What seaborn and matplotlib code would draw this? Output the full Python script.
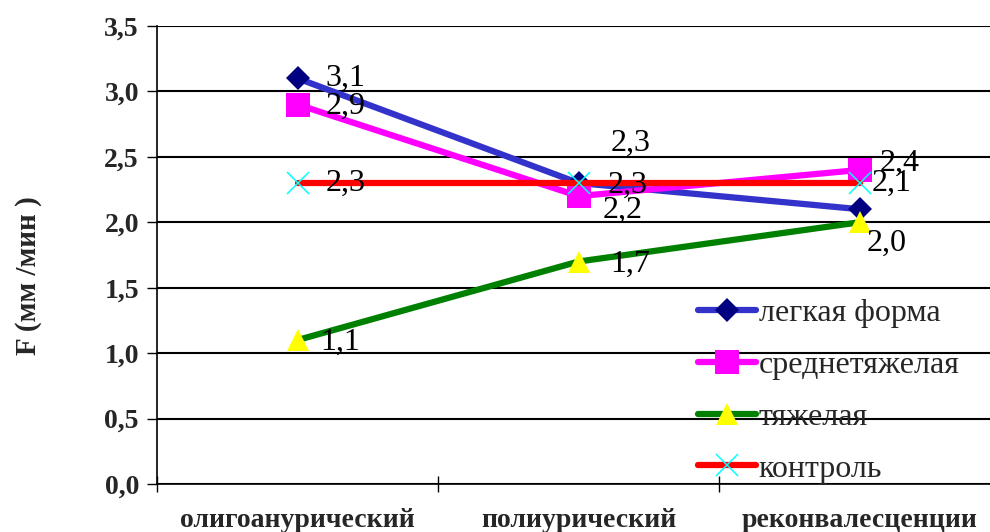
import matplotlib
matplotlib.use("Agg")
import matplotlib.pyplot as plt
import seaborn as sns

# Phases of the disease and measured values F (mm/min)
phases = ["олигоанурический", "полиурический", "реконвалесценции"]
series_names = ["легкая форма", "среднетяжелая", "тяжелая", "контроль"]
mild = [3.1, 2.3, 2.1]
moderate = [2.9, 2.2, 2.4]
severe = [1.1, 1.7, 2.0]
control = [2.3, 2.3, 2.3]
y_ticks = [0.0, 0.5, 1.0, 1.5, 2.0, 2.5, 3.0, 3.5]
y_tick_labels = ["0,0", "0,5", "1,0", "1,5", "2,0", "2,5", "3,0", "3,5"]
y_label = "F (мм /мин )"

sns.set_theme(style="white")
plt.rcParams["font.family"] = ["Liberation Serif", "DejaVu Serif"]

fig = plt.figure(figsize=(9.9, 5.32), dpi=100)
ax = fig.add_axes([157 / 990, 48 / 532, 843 / 990, 458 / 532])

x_pos = list(range(len(phases)))

styles = [
    dict(color="#3333CC", marker="D", markersize=12, markerfacecolor="#000080",
         markeredgecolor="#000080", markeredgewidth=0),
    dict(color="#FF00FF", marker="s", markersize=17, markerfacecolor="#FF00FF",
         markeredgecolor="#FF00FF", markeredgewidth=0),
    dict(color="#008000", marker="^", markersize=16, markerfacecolor="#FFFF00",
         markeredgecolor="#FFFF00", markeredgewidth=0),
    dict(color="#FF0000", marker="x", markersize=16, markeredgecolor="#00FFFF",
         markeredgewidth=1.1),
]
all_values = [mild, moderate, severe, control]

for i, (name, vals, st) in enumerate(zip(series_names, all_values, styles)):
    sns.lineplot(x=x_pos, y=vals, ax=ax, linewidth=4.5, label=name,
                 zorder=3 + i, **st)

# Value labels: offsets in pixels (dx, dy) from the point, screen-down positive
label_offsets = [
    [(28, 0), (32, -40), (12, -26)],
    [(28, 2), (24, 14), (20, -7)],
    [(23, 2), (32, 3), (7, 21)],
    [(28, 0), (29, 2), None],
]
px2pt = 0.72
for vals, offs in zip(all_values, label_offsets):
    for xi, (v, off) in enumerate(zip(vals, offs)):
        if off is None:
            continue
        ax.annotate(f"{v:.1f}".replace(".", ","), xy=(xi, v),
                    xytext=(off[0] * px2pt, -off[1] * px2pt),
                    textcoords="offset points", ha="left", va="center",
                    fontsize=23, color="black", zorder=10)

ax.set_xlim(-0.5, 2.5)
ax.set_ylim(0, 3.5)
ax.set_yticks(y_ticks, y_tick_labels)
ax.set_xticks(x_pos, phases)
ax.set_xticks([-0.5, 0.5, 1.5, 2.5], minor=True)
ax.tick_params(axis="x", which="major", length=0, pad=17, labelsize=20)
ax.tick_params(axis="x", which="minor", direction="inout", length=12,
               width=1, color="black", bottom=True)
ax.tick_params(axis="y", direction="out", length=7, width=1, color="black",
               left=True, pad=6, labelsize=20)
for lab in ax.get_xticklabels() + ax.get_yticklabels():
    lab.set_fontweight("bold")
ax.set_xlabel("")
ax.set_ylabel(y_label, fontsize=21, fontweight="bold")
ax.yaxis.set_label_coords(-0.137, 0.454)

ax.yaxis.grid(True, color="black", linewidth=1.5)
ax.xaxis.grid(False)
ax.set_axisbelow(True)
for side in ["top", "right"]:
    ax.spines[side].set_visible(False)
for side in ["left", "bottom"]:
    ax.spines[side].set_color("black")
    ax.spines[side].set_linewidth(1.2)

leg = ax.legend(loc="upper left", bbox_to_anchor=(698 / 990, 1 - 299 / 532),
                bbox_transform=fig.transFigure, frameon=False, fontsize=23,
                handlelength=1.8, handletextpad=0.1, labelspacing=0.7,
                borderpad=0, borderaxespad=0)

fig.savefig("out.png", dpi=100)
